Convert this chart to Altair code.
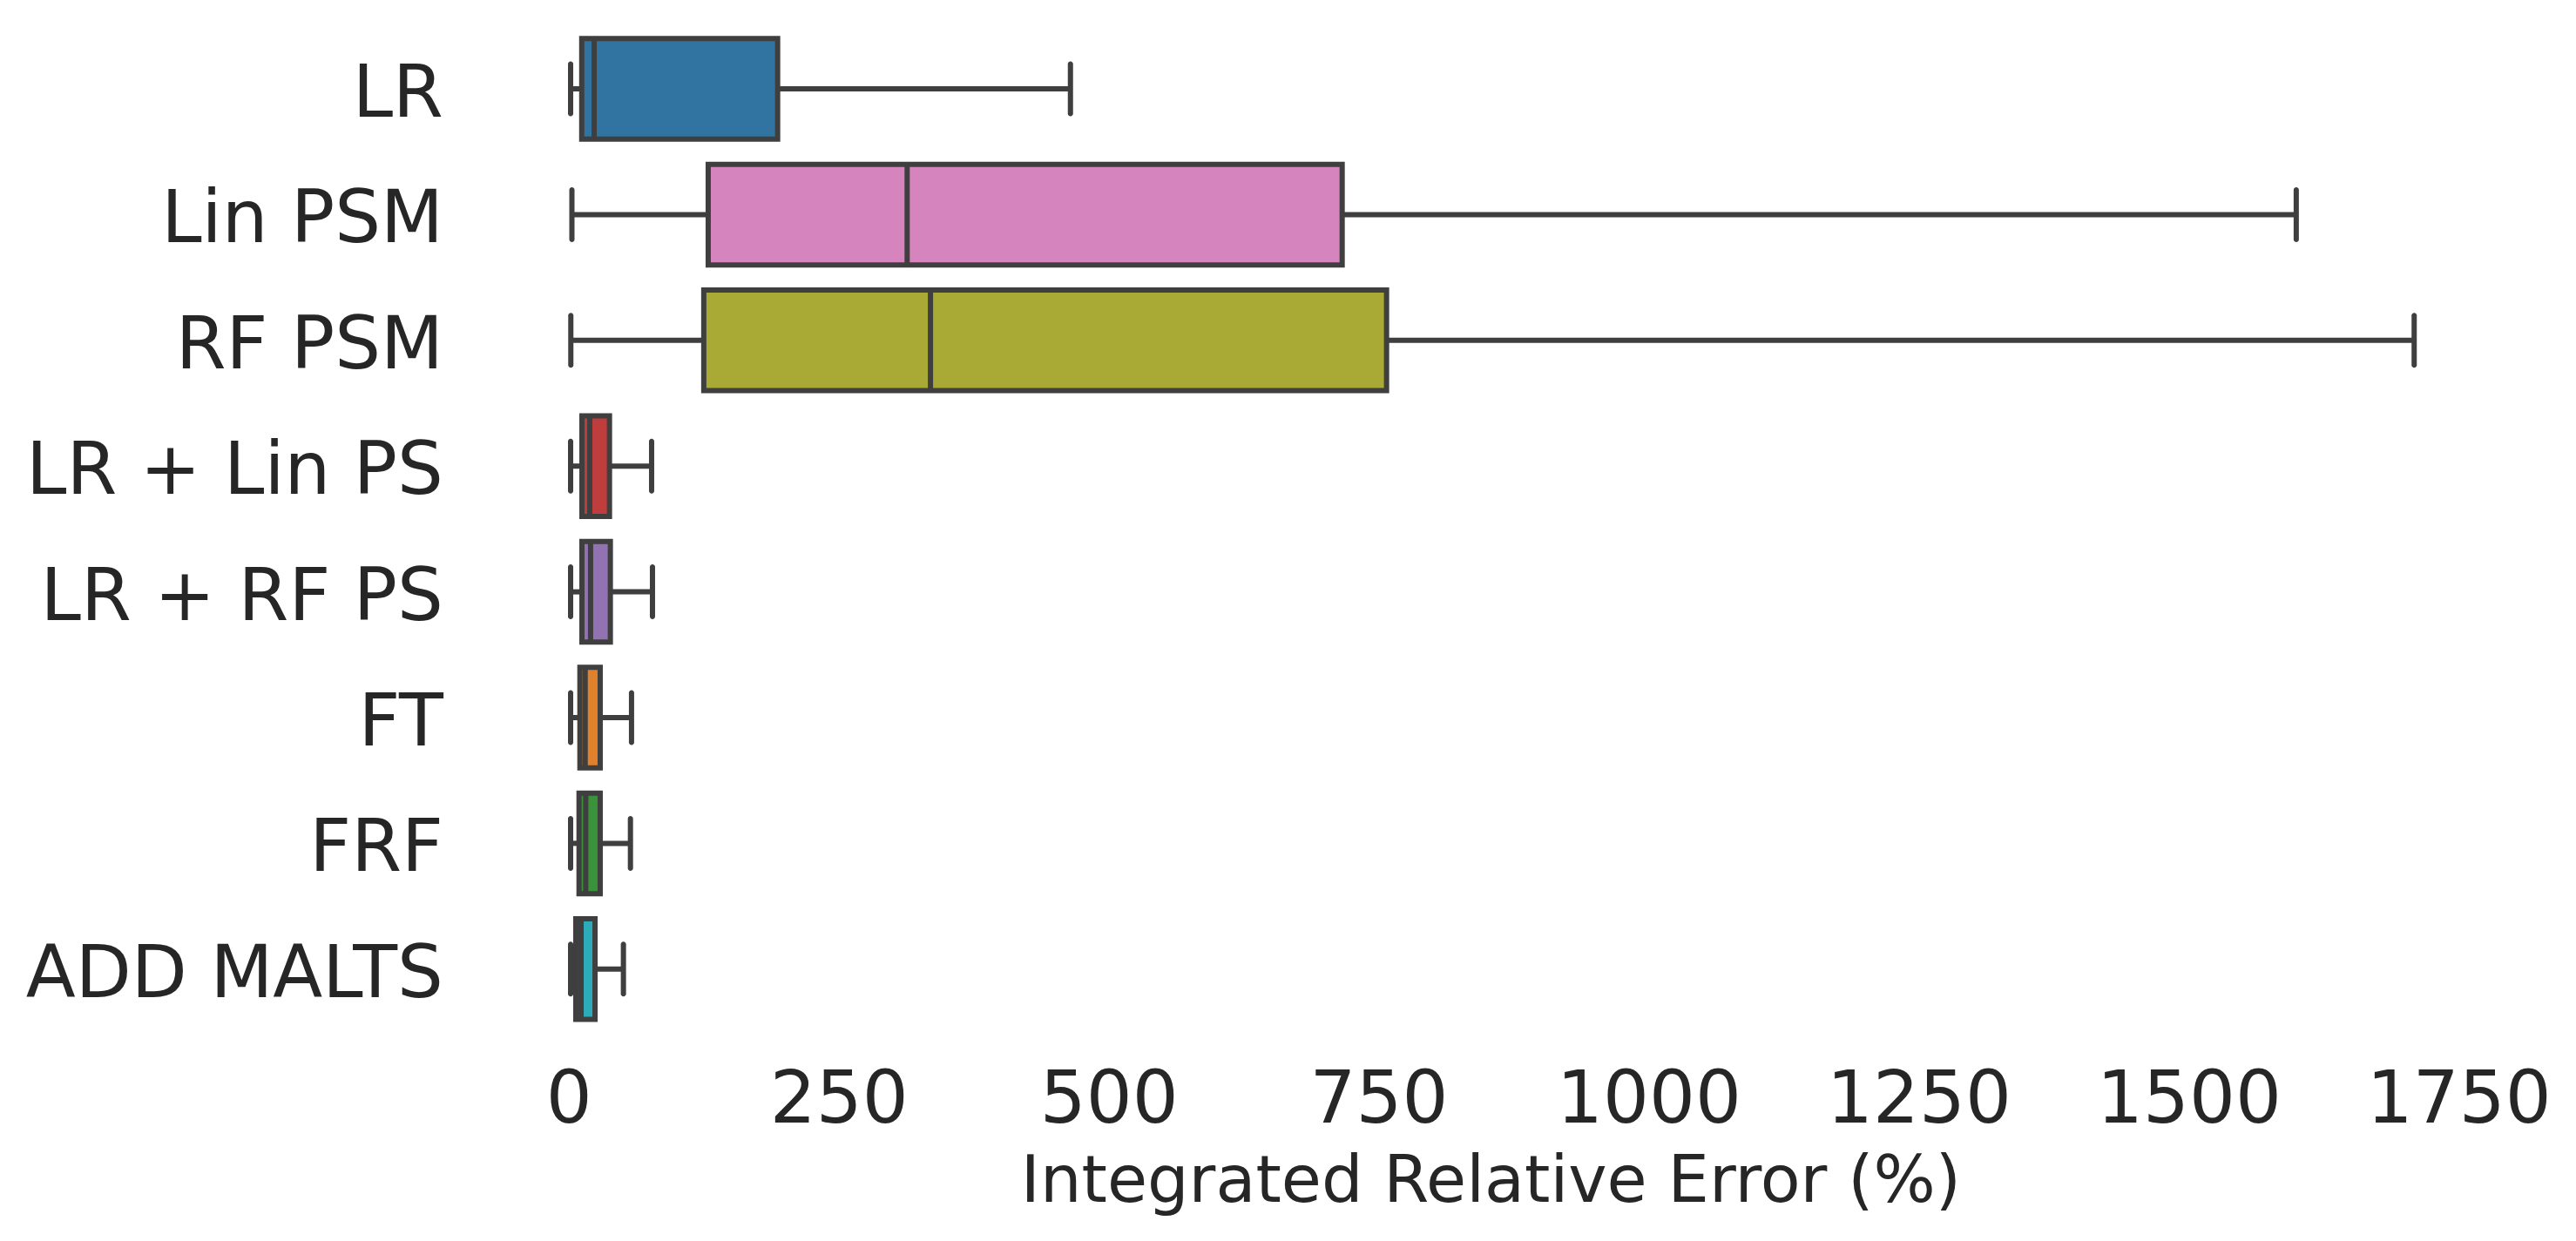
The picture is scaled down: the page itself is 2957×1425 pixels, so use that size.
import altair as alt
import pandas as pd

methods = ["LR", "Lin PSM", "RF PSM", "LR + Lin PS", "LR + RF PS", "FT", "FRF", "ADD MALTS"]
colors = ["#3274a1", "#d684bd", "#a9aa35", "#c03d3e", "#9372b2", "#e1812c", "#3a923a", "#2eabb8"]
whisker_low = [1.8, 3.0, 2.0, 1.8, 1.8, 1.8, 1.8, 1.8]
q1 = [12.1, 129.2, 125.1, 12.3, 12.3, 10.4, 9.6, 6.6]
median = [23.6, 313.4, 335.0, 19.5, 20.3, 15.3, 15.8, 11.5]
q3 = [193.5, 716.2, 757.3, 37.8, 38.6, 29.2, 29.2, 24.4]
whisker_high = [464.6, 1599.6, 1708.8, 76.8, 77.6, 58.2, 57.2, 50.7]
tick_values = [0, 250, 500, 750, 1000, 1250, 1500, 1750]

df = pd.DataFrame({
    "method": methods,
    "lo": whisker_low,
    "q1": q1,
    "med": median,
    "q3": q3,
    "hi": whisker_high,
})

W = 2327
STEP = 144.4
H = STEP * len(methods)
LINE = "#3f3f3f"
TXT = "#262626"
FONT = "DejaVu Sans"

xscale = alt.Scale(domain=[-85, 1792], nice=False, zero=False)
yscale = alt.Scale(domain=methods, paddingInner=0, paddingOuter=0)

xaxis = alt.Axis(
    values=tick_values, format="d", grid=False, ticks=False, tickSize=0, domain=False,
    labelFontSize=83.3, labelColor=TXT, labelFont=FONT, labelPadding=38,
    labelFlush=False, labelOverlap=False, labelLimit=2000,
    title="Integrated Relative Error (%)", titleFontSize=75, titleFont=FONT,
    titleColor=TXT, titleFontWeight="normal", titleBaseline="alphabetic",
    titleY=194.3, titleX=W / 2, titleAlign="center", titleLimit=3000,
)
yaxis = alt.Axis(
    grid=False, ticks=False, tickSize=0, domain=False,
    labelFontSize=83.3, labelColor=TXT, labelFont=FONT, labelPadding=39,
    labelLimit=2000, labelOffset=7, title=None,
)

base = alt.Chart(df)
Y = alt.Y("method:N", scale=yscale, axis=yaxis, sort=methods)

whisk_lo = base.mark_rule(color=LINE, strokeWidth=6).encode(
    x=alt.X("lo:Q", scale=xscale, axis=xaxis), x2="q1:Q", y=Y)
whisk_hi = base.mark_rule(color=LINE, strokeWidth=6).encode(
    x=alt.X("q3:Q", scale=xscale), x2="hi:Q", y=Y)
cap_lo = base.mark_tick(color=LINE, size=63, thickness=6, cornerRadius=3, opacity=1).encode(
    x=alt.X("lo:Q", scale=xscale), y=Y)
cap_hi = base.mark_tick(color=LINE, size=63, thickness=6, cornerRadius=3, opacity=1).encode(
    x=alt.X("hi:Q", scale=xscale), y=Y)
box = base.mark_bar(height=115.5, stroke=LINE, strokeWidth=6, opacity=1).encode(
    x=alt.X("q1:Q", scale=xscale), x2="q3:Q", y=Y,
    color=alt.Color("method:N", scale=alt.Scale(domain=methods, range=colors), legend=None),
)
med = base.mark_tick(color=LINE, size=115.5, thickness=6, opacity=1).encode(
    x=alt.X("med:Q", scale=xscale), y=Y)

chart = alt.layer(whisk_lo, whisk_hi, cap_lo, cap_hi, box, med).properties(
    width=W, height=H,
    autosize=alt.AutoSizeParams(type="none"),
    padding={"left": 539.4, "top": 21.8, "right": 60, "bottom": 215},
    background="white",
).configure_view(stroke=None)

chart.save("out.html", embed_options={"renderer": "svg", "actions": False})
